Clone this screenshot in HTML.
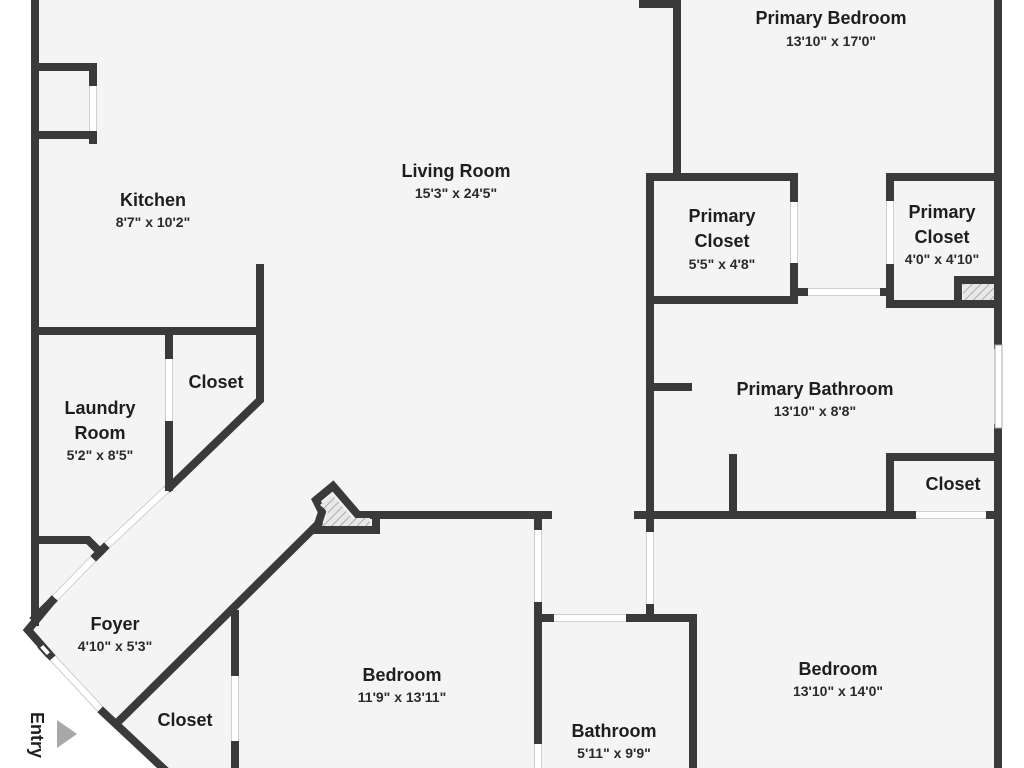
<!DOCTYPE html>
<html><head><meta charset="utf-8"><style>
html,body{margin:0;padding:0;background:#fff;}
svg{display:block;}
text{font-family:"Liberation Sans","DejaVu Sans",sans-serif;fill:#1e1e1e;text-anchor:middle;}
.n{font-size:18px;font-weight:bold;}
.d{font-size:14px;font-weight:bold;fill:#2a2a2a;}
</style></head><body>
<svg width="1024" height="768" viewBox="0 0 1024 768" xmlns="http://www.w3.org/2000/svg">
<defs>
<pattern id="h" width="6" height="6" patternUnits="userSpaceOnUse" patternTransform="rotate(45)">
<rect width="6" height="6" fill="#e8e8e8"/><line x1="0" y1="0" x2="0" y2="6" stroke="#999" stroke-width="1.5"/>
</pattern>
</defs>
<rect width="1024" height="768" fill="#fff"/>
<polygon points="31,0 1002,0 1002,768 165,768 28,630 31,620" fill="#f4f4f4"/>
<!-- door strips -->
<g stroke="#cfcfcf" stroke-width="8" fill="none">
<line x1="93" y1="82" x2="93" y2="134"/>
<line x1="169" y1="355" x2="169" y2="425"/>
<line x1="168" y1="488" x2="104" y2="548"/>
<line x1="96" y1="556" x2="52" y2="601"/>
<line x1="50" y1="655" x2="103" y2="712"/>
<line x1="235" y1="672" x2="235" y2="745"/>
<line x1="538" y1="526" x2="538" y2="606"/>
<line x1="538" y1="740" x2="538" y2="768"/>
<line x1="550" y1="618" x2="630" y2="618"/>
<line x1="650" y1="528" x2="650" y2="608"/>
<line x1="794" y1="198" x2="794" y2="267"/>
<line x1="890" y1="197" x2="890" y2="268"/>
<line x1="804" y1="292" x2="884" y2="292"/>
<line x1="912" y1="515" x2="990" y2="515"/>
</g>
<g stroke="#fff" stroke-width="6" fill="none">
<line x1="93" y1="82" x2="93" y2="134"/>
<line x1="169" y1="355" x2="169" y2="425"/>
<line x1="168" y1="488" x2="104" y2="548"/>
<line x1="96" y1="556" x2="52" y2="601"/>
<line x1="50" y1="655" x2="103" y2="712"/>
<line x1="235" y1="672" x2="235" y2="745"/>
<line x1="538" y1="526" x2="538" y2="606"/>
<line x1="538" y1="740" x2="538" y2="768"/>
<line x1="550" y1="618" x2="630" y2="618"/>
<line x1="650" y1="528" x2="650" y2="608"/>
<line x1="794" y1="198" x2="794" y2="267"/>
<line x1="890" y1="197" x2="890" y2="268"/>
<line x1="804" y1="292" x2="884" y2="292"/>
<line x1="912" y1="515" x2="990" y2="515"/>
</g>
<g stroke="#3a3a3a" stroke-width="8" fill="none" stroke-linecap="square">
<line x1="35" y1="0" x2="35" y2="622"/>
<polyline points="35,67 93,67 93,82"/>
<polyline points="35,135 93,135 93,140"/>
<line x1="35" y1="331" x2="260" y2="331"/>
<polyline points="260,268 260,400 170,487"/>
<line x1="169" y1="331" x2="169" y2="355"/>
<line x1="169" y1="425" x2="169" y2="487"/>
<polyline points="35,540 88,540 100,552"/>
<line x1="96" y1="556" x2="104" y2="548"/>
<line x1="35" y1="618" x2="52" y2="601"/>
<polyline points="52,601 28,630 50,655"/>
<line x1="103" y1="712" x2="165" y2="770"/>
<line x1="118" y1="722" x2="318" y2="524"/>
<polygon points="316,500 333,486 358,515 376,515 376,530 316,530 322,512"/>
<line x1="376" y1="515" x2="548" y2="515"/>
<line x1="235" y1="614" x2="235" y2="672"/>
<line x1="235" y1="745" x2="235" y2="768"/>
<line x1="538" y1="515" x2="538" y2="526"/>
<line x1="538" y1="606" x2="538" y2="740"/>
<line x1="538" y1="618" x2="550" y2="618"/>
<polyline points="630,618 693,618 693,768"/>
<line x1="650" y1="608" x2="650" y2="618"/>
<line x1="650" y1="177" x2="650" y2="528"/>
<line x1="638" y1="515" x2="912" y2="515"/>
<line x1="990" y1="515" x2="998" y2="515"/>
<line x1="998" y1="0" x2="998" y2="345"/>
<line x1="998" y1="428" x2="998" y2="768"/>
<line x1="650" y1="387" x2="688" y2="387"/>
<line x1="733" y1="458" x2="733" y2="515"/>
<polyline points="998,457 890,457 890,515"/>
<polyline points="650,177 794,177 794,198"/>
<polyline points="794,267 794,300 650,300"/>
<line x1="794" y1="292" x2="804" y2="292"/>
<polyline points="998,177 890,177 890,197"/>
<polyline points="890,268 890,304 998,304"/>
<line x1="884" y1="292" x2="890" y2="292"/>
<line x1="958" y1="280" x2="958" y2="304"/>
<line x1="958" y1="280" x2="998" y2="280"/>
<polyline points="643,4 677,4 677,173"/>
</g>
<polygon points="320,505 332,494 352,518 370,518 370,526 322,526 328,512" fill="url(#h)"/>
<rect x="963" y="284" width="31" height="16" fill="url(#h)"/>
<rect x="995" y="345" width="7" height="83" fill="#fff" stroke="#aaa" stroke-width="1"/>
<g transform="translate(45,650) rotate(48)"><rect x="-6" y="-3" width="12" height="6" fill="#fff" stroke="#3a3a3a" stroke-width="2"/></g>
<polygon points="57,720 57,748 77,734" fill="#a8a8a8"/>
<text class="n" transform="translate(31,735) rotate(90)">Entry</text>
<text class="n" x="831" y="24">Primary Bedroom</text><text class="d" x="831" y="46">13'10" x 17'0"</text>
<text class="n" x="456" y="177">Living Room</text><text class="d" x="456" y="198">15'3" x 24'5"</text>
<text class="n" x="153" y="206">Kitchen</text><text class="d" x="153" y="227">8'7" x 10'2"</text>
<text class="n" x="722" y="222">Primary</text><text class="n" x="722" y="247">Closet</text><text class="d" x="722" y="269">5'5" x 4'8"</text>
<text class="n" x="942" y="218">Primary</text><text class="n" x="942" y="243">Closet</text><text class="d" x="942" y="264">4'0" x 4'10"</text>
<text class="n" x="815" y="395">Primary Bathroom</text><text class="d" x="815" y="416">13'10" x 8'8"</text>
<text class="n" x="953" y="490">Closet</text>
<text class="n" x="216" y="388">Closet</text>
<text class="n" x="100" y="414">Laundry</text><text class="n" x="100" y="439">Room</text><text class="d" x="100" y="460">5'2" x 8'5"</text>
<text class="n" x="115" y="630">Foyer</text><text class="d" x="115" y="651">4'10" x 5'3"</text>
<text class="n" x="402" y="681">Bedroom</text><text class="d" x="402" y="702">11'9" x 13'11"</text>
<text class="n" x="838" y="675">Bedroom</text><text class="d" x="838" y="696">13'10" x 14'0"</text>
<text class="n" x="614" y="737">Bathroom</text><text class="d" x="614" y="758">5'11" x 9'9"</text>
<text class="n" x="185" y="726">Closet</text>
</svg>
</body></html>
